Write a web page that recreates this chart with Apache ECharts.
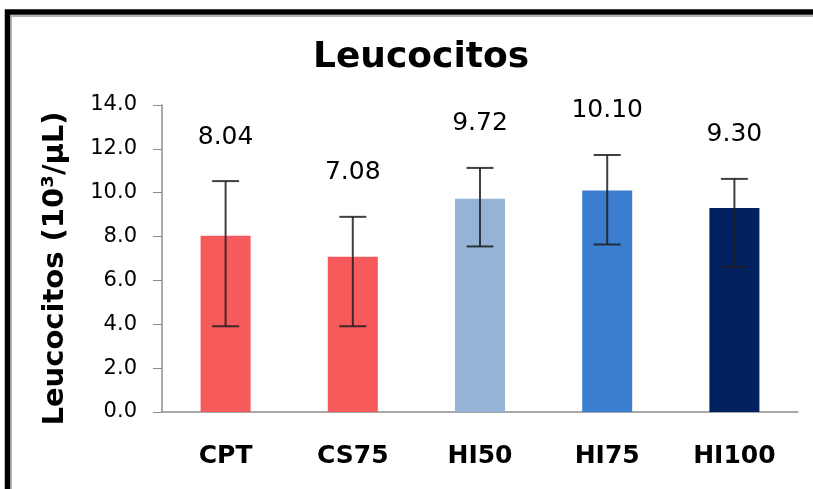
<!DOCTYPE html>
<html>
<head>
<meta charset="utf-8">
<script src="https://cdn.jsdelivr.net/npm/echarts@6/dist/echarts.min.js"></script>
<style>
    html, body { margin: 0; padding: 0; background: #fff; }
    #chart { width: 813px; height: 489px; }
</style>
</head>
<body>
<div id="chart"></div>
<script>
let chart = echarts.init(document.getElementById('chart'));

// datos
let categories = ['CPT', 'CS75', 'HI50', 'HI75', 'HI100'];
let means = [8.04, 7.08, 9.72, 10.10, 9.30];
let errLow = [3.91, 3.91, 7.55, 7.64, 6.62];
let errHigh = [10.53, 8.90, 11.13, 11.72, 10.63];
let valueLabels = ['8.04', '7.08', '9.72', '10.10', '9.30'];
let barColors = ['#f75a5b', '#f75a5b', '#95b3d7', '#3b7ecf', '#002060'];
let yTicks = [0, 2, 4, 6, 8, 10, 12, 14];

let fontFamily = 'DejaVu Sans, Verdana, sans-serif';

let errorData = categories.map((c, i) => [i, errLow[i], errHigh[i]]);

let renderError = function (params, api) {
    let hi = api.coord([api.value(0), api.value(2)]);
    let lo = api.coord([api.value(0), api.value(1)]);
    let half = 13.5;
    let style = {stroke: '#1e1e1e', lineWidth: 2, opacity: 0.85};
    return {
        type: 'group',
        children: [
            {type: 'line', shape: {x1: hi[0], y1: hi[1], x2: lo[0], y2: lo[1]}, style: style},
            {type: 'line', shape: {x1: hi[0] - half, y1: hi[1], x2: hi[0] + half, y2: hi[1]}, style: style},
            {type: 'line', shape: {x1: lo[0] - half, y1: lo[1], x2: lo[0] + half, y2: lo[1]}, style: style},
            {
                type: 'text',
                x: hi[0],
                y: hi[1] - 44,
                style: {
                    text: valueLabels[params.dataIndex],
                    fill: '#000',
                    fontSize: 25,
                    fontFamily: fontFamily,
                    align: 'center',
                    verticalAlign: 'middle'
                }
            }
        ]
    };
};

let option = {
    animation: false,
    backgroundColor: '#fff',
    title: {
        text: 'Leucocitos',
        left: 308,
        top: 35,
        textStyle: {
            fontFamily: fontFamily,
            fontWeight: 'bold',
            fontSize: 36,
            color: '#000'
        }
    },
    grid: {
        left: 162,
        right: 15,
        top: 105,
        bottom: 77
    },
    xAxis: {
        type: 'category',
        data: categories,
        axisLine: {lineStyle: {color: '#8c8c8c', width: 1.5}},
        axisTick: {show: false},
        axisLabel: {
            margin: 32,
            fontFamily: fontFamily,
            fontWeight: 'bold',
            fontSize: 25,
            color: '#000'
        }
    },
    yAxis: {
        type: 'value',
        min: yTicks[0],
        max: yTicks[yTicks.length - 1],
        interval: 2,
        name: 'Leucocitos (10³/µL)',
        nameLocation: 'middle',
        nameGap: 92,
        nameTextStyle: {
            fontFamily: fontFamily,
            fontWeight: 'bold',
            fontSize: 29,
            color: '#000',
            padding: [0, 20, 0, 0]
        },
        axisLine: {show: true, lineStyle: {color: '#8c8c8c', width: 1.5}},
        axisTick: {show: true, inside: false, length: 9, lineStyle: {color: '#8c8c8c'}},
        splitLine: {show: false},
        axisLabel: {
            margin: 25,
            fontFamily: fontFamily,
            fontSize: 21,
            color: '#000',
            formatter: v => v.toFixed(1)
        }
    },
    series: [
        {
            type: 'bar',
            barWidth: 50,
            data: means.map((v, i) => ({value: v, itemStyle: {color: barColors[i]}}))
        },
        {
            type: 'custom',
            renderItem: renderError,
            data: errorData,
            z: 5
        }
    ],
    graphic: [
        {
            type: 'rect',
            shape: {x: 7.5, y: 12, width: 1000, height: 700},
            style: {fill: 'none', stroke: '#000', lineWidth: 5.5},
            silent: true
        },
        {
            type: 'polyline',
            shape: {points: [[11, 489], [11, 16], [813, 16]]},
            style: {fill: 'none', stroke: '#9a9a9a', lineWidth: 1.5},
            silent: true
        }
    ]
};

chart.setOption(option);
</script>
</body>
</html>
